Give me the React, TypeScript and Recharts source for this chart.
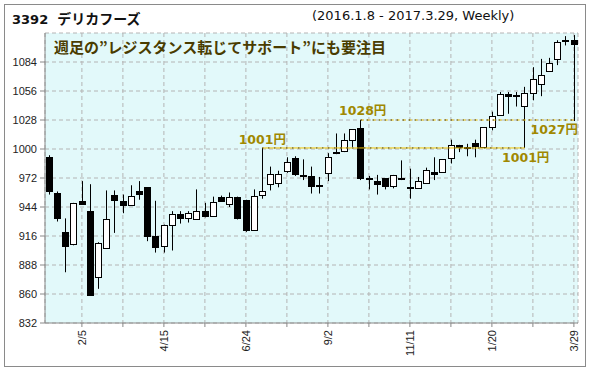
import {
	Bar,
	CartesianGrid,
	ComposedChart,
	ReferenceDot,
	ReferenceLine,
	XAxis,
	YAxis,
} from "recharts";

const weeks = [
	"1/8", "1/15", "1/22", "1/29", "2/5", "2/12", "2/19", "2/26", "3/4", "3/11",
	"3/18", "3/25", "4/1", "4/8", "4/15", "4/22", "4/29", "5/6", "5/13", "5/20",
	"5/27", "6/3", "6/10", "6/17", "6/24", "7/1", "7/8", "7/15", "7/22", "7/29",
	"8/5", "8/12", "8/19", "8/26", "9/2", "9/9", "9/16", "9/23", "9/30", "10/7",
	"10/14", "10/21", "10/28", "11/4", "11/11", "11/18", "11/25", "12/2", "12/9", "12/16",
	"12/23", "12/30", "1/6", "1/13", "1/20", "1/27", "2/3", "2/10", "2/17", "2/24",
	"3/3", "3/10", "3/17", "3/24", "3/29",
];

const opens = [
	992, 958, 920, 908, 950, 940, 876, 904, 956, 950,
	946, 959, 963, 916, 906, 927, 937, 933, 932, 940,
	935, 954, 947, 954, 951, 922, 956, 966, 967, 979,
	991, 975, 974, 965, 977, 997, 998, 1009, 1020, 972,
	969, 972, 964, 972, 963, 962, 967, 978, 978, 991,
	1004, 1001, 1006, 1002, 1021, 1033, 1053, 1052, 1042, 1054,
	1063, 1075, 1087, 1105, 1105,
];
const highs = [
	994, 959, 933, 948, 969, 966, 910, 960, 960, 956,
	965, 969, 963, 950, 927, 940, 940, 940, 961, 948,
	954, 955, 958, 954, 951, 961, 1001, 983, 979, 992,
	993, 990, 983, 973, 996, 1015, 1015, 1019, 1028, 974,
	975, 972, 975, 989, 981, 973, 982, 992, 990, 1009,
	1004, 1005, 1009, 1021, 1036, 1055, 1055, 1055, 1060, 1079,
	1087, 1088, 1105, 1109, 1110,
];
const lows = [
	956, 930, 881, 907, 946, 859, 865, 904, 919, 938,
	946, 951, 911, 900, 900, 902, 928, 929, 932, 934,
	935, 949, 944, 932, 920, 922, 952, 960, 963, 977,
	974, 970, 957, 957, 969, 995, 997, 1002, 970, 961,
	956, 961, 962, 970, 952, 962, 967, 970, 978, 986,
	997, 993, 992, 1001, 1018, 1033, 1034, 1041, 1001, 1047,
	1051, 1075, 1081, 1100, 1027,
];
const closes = [
	959, 933, 906, 948, 947, 859, 909, 932, 951, 946,
	955, 957, 916, 905, 927, 937, 933, 938, 940, 935,
	949, 950, 954, 933, 922, 955, 959, 976, 976, 987,
	976, 974, 964, 964, 992, 996, 1009, 1019, 972, 971,
	966, 964, 975, 971, 962, 969, 980, 976, 990, 1004,
	1002, 1002, 1003, 1021, 1032, 1053, 1051, 1051, 1054, 1068,
	1071, 1083, 1103, 1104, 1101,
];

const yTicks = [832, 860, 888, 916, 944, 972, 1000, 1028, 1056, 1084];
const xTicks = [
	"2/5", "3/11", "4/15", "5/20", "6/24", "7/29", "9/2", "10/7", "11/11",
	"12/16", "1/20", "2/24", "3/29",
];
const xLabels = ["2/5", "4/15", "6/24", "9/2", "11/11", "1/20", "3/29"];

const data = weeks.map((date, i) => ({
	date,
	open: opens[i],
	high: highs[i],
	low: lows[i],
	close: closes[i],
	range: [lows[i], highs[i]],
}));

const labelColor = "#a08800";
const tickFont = { fill: "#222", fontSize: 11, fontFamily: "Liberation Sans" };

function Candle(props: any) {
	const { x, y, width, height, payload } = props;
	const { open, close, high, low } = payload;
	const top = Math.min(y, y + height);
	const bottom = Math.max(y, y + height);
	const ppu = (bottom - top) / (high - low || 1);
	const yOf = (v: number) => top + (high - v) * ppu;
	const cx = Math.floor(x + width / 2) + 0.5;
	const up = close >= open;
	const bTop = Math.round(yOf(Math.max(open, close))) + 0.5;
	const bBot = Math.round(yOf(Math.min(open, close))) + 0.5;
	return (
		<g>
			<line x1={cx} x2={cx} y1={top} y2={bottom} stroke="#000" strokeWidth={1} />
			<rect
				x={cx - 3}
				y={bTop}
				width={6}
				height={Math.max(bBot - bTop, 1)}
				fill={up ? "#fff" : "#000"}
				stroke="#000"
				strokeWidth={1}
			/>
		</g>
	);
}

function XTick({ x, y, payload }: any) {
	if (!xLabels.includes(payload.value)) return null;
	return (
		<text
			x={x}
			y={y}
			transform={`rotate(-90 ${x} ${y})`}
			textAnchor="end"
			dy="0.35em"
			{...tickFont}>
			{payload.value}
		</text>
	);
}

// price tag drawn next to a reference point
function priceLabel(text: string, dx: number, dy: number, anchor = "middle") {
	return (p: any) => (
		<text
			x={p.cx + dx}
			y={p.cy + dy}
			textAnchor={anchor}
			fill={labelColor}
			fontSize={12.5}
			fontWeight="bold"
			fontFamily="DejaVu Sans, Noto Sans CJK JP">
			{text}
		</text>
	);
}

export default function App() {
	const seg = (from: string, to: string, y: number) => [
		{ x: from, y },
		{ x: to, y },
	];
	return (
		<div style={{ position: "absolute", left: 0, top: 0 }}>
			<div
				style={{
					position: "relative",
					width: 590,
					height: 371,
					background: "#fff",
					fontFamily: "DejaVu Sans, Noto Sans CJK JP",
				}}>
				<div
					style={{
						position: "absolute",
						left: 4,
						top: 4,
						width: 580,
						height: 361,
						border: "1px solid #8a8a8a",
					}}
				/>
				<div
					style={{
						position: "absolute",
						left: 12,
						top: 8,
						fontSize: 13,
						fontWeight: "bold",
						color: "#111",
						whiteSpace: "nowrap",
					}}>
					3392&nbsp;&nbsp;<span style={{ fontSize: 14 }}>デリカフーズ</span>
				</div>
				<div
					style={{
						position: "absolute",
						left: 312,
						top: 8,
						fontSize: 13,
						color: "#111",
						whiteSpace: "nowrap",
					}}>
					(2016.1.8 - 2017.3.29, Weekly)
				</div>
				<ComposedChart
					width={590}
					height={371}
					data={data}
					barCategoryGap="10%"
					margin={{ top: 33, right: 12, bottom: 0, left: 0 }}>
					<CartesianGrid
						fill="#e2f9fa"
						stroke="#b4b4b4"
						strokeDasharray="4 3"
					/>
					<XAxis
						dataKey="date"
						type="category"
						ticks={xTicks}
						interval={0}
						height={48}
						tickSize={4}
						tickMargin={3}
						tick={<XTick />}
						axisLine={{ stroke: "#888" }}
						tickLine={{ stroke: "#888" }}
					/>
					<XAxis
						xAxisId="top"
						orientation="top"
						dataKey="date"
						height={0}
						tick={false}
						tickLine={false}
						axisLine={{ stroke: "#999" }}
					/>
					<YAxis
						type="number"
						domain={[832, 1112]}
						ticks={yTicks}
						interval={0}
						width={45}
						tickSize={5}
						tickMargin={3}
						tick={tickFont}
						axisLine={{ stroke: "#888" }}
						tickLine={{ stroke: "#888" }}
					/>
					<YAxis
						yAxisId="right"
						orientation="right"
						type="number"
						domain={[832, 1112]}
						width={0}
						tick={false}
						tickLine={false}
						axisLine={{ stroke: "#999" }}
					/>
					<Bar dataKey="range" shape={<Candle />} isAnimationActive={false} />
					<ReferenceLine segment={seg("7/8", "2/17", 1001)} stroke="#f2c200" strokeWidth={1} />
					<ReferenceLine segment={seg("7/8", "2/17", 1001)} stroke="#000" strokeDasharray="1 5" />
					<ReferenceLine segment={seg("9/30", "3/29", 1028)} stroke="#f2c200" strokeWidth={1} strokeDasharray="3 3" />
					<ReferenceLine segment={seg("9/30", "3/29", 1028)} stroke="#000" strokeDasharray="1 5" />
					<ReferenceDot x="7/8" y={1001} r={0} shape={priceLabel("1001円", 0, -4)} />
					<ReferenceDot x="9/30" y={1028} r={0} shape={priceLabel("1028円", 2, -5)} />
					<ReferenceDot x="2/17" y={1001} r={0} shape={priceLabel("1001円", 1, 14)} />
					<ReferenceDot x="3/29" y={1028} r={0} shape={priceLabel("1027円", 4, 14, "end")} />
				</ComposedChart>
				<div
					style={{
						position: "absolute",
						left: 54,
						top: 36,
						fontSize: 15,
						fontWeight: "bold",
						color: "#4a3c00",
						fontFamily: "Noto Sans CJK JP",
						whiteSpace: "nowrap",
					}}>
					週足の”レジスタンス転じてサポート”にも要注目
				</div>
			</div>
		</div>
	);
}
